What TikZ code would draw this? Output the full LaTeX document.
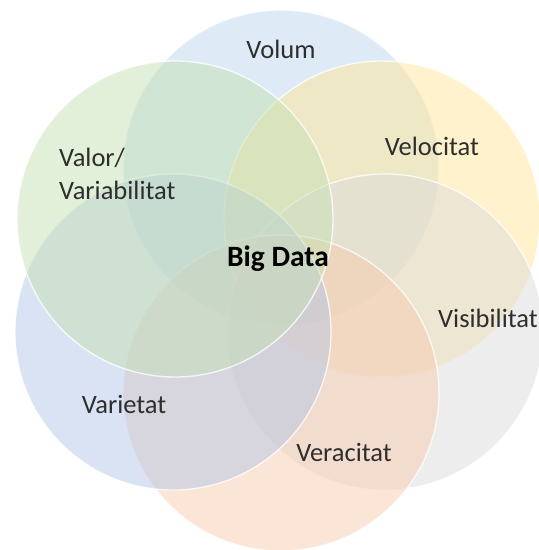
\documentclass[tikz,border=0pt]{standalone}
\usepackage{fontspec}
\setmainfont{Carlito}
% light tints of the six accent colours
\definecolor{tintBlue}{HTML}{BDD7EE}
\definecolor{tintGold}{HTML}{FFE699}
\definecolor{tintGray}{HTML}{DBDBDB}
\definecolor{tintOrange}{HTML}{F8CBAD}
\definecolor{tintDkBlue}{HTML}{B4C7E7}
\definecolor{tintGreen}{HTML}{C5E0B4}
\definecolor{labelText}{HTML}{2E2E2E}
\begin{document}
\begin{tikzpicture}[x=1pt,y=-1pt,
  petal/.style={circle, inner sep=0pt, minimum size=316pt,
    fill=#1, fill opacity=0.5, draw=white, draw opacity=0.8, line width=1.3pt},
  lbl/.style={anchor=base, inner sep=0pt, text=labelText, font=\fontsize{26.5}{33}\selectfont},
  hub/.style={anchor=base, inner sep=0pt, text=black, font=\fontsize{29.5}{34}\selectfont\bfseries}]
  \useasboundingbox (0,0) rectangle (539,550);
  \begin{scope}
    \clip (0,0) rectangle (539,550);
    % six overlapping petals, drawn clockwise from the top
    \node[petal=tintBlue]   (volum)  at (281,168) {};
    \node[petal=tintGold]   (veloc)  at (382,219) {};
    \node[petal=tintGray]   (visib)  at (385,332) {};
    \node[petal=tintOrange] (verac)  at (281,393) {};
    \node[petal=tintDkBlue] (variet) at (173,332) {};
    \node[petal=tintGreen]  (valor)  at (175,219) {};
  \end{scope}
  % labels
  \node[lbl] (tVolum)  at (281,58)  {Volum};
  \node[lbl] (tVeloc)  at (432,155) {Velocitat};
  \node[lbl, anchor=base west] (tValor) at (59,166) {Valor/};
  \node[lbl, anchor=base west] (tVariab) at (59,199) {Variabilitat};
  \node[hub] (tBig)    at (278,266) {Big Data};
  \node[lbl] (tVisib)  at (488,327) {Visibilitat};
  \node[lbl] (tVariet) at (124,413) {Varietat};
  \node[lbl] (tVerac)  at (344,461) {Veracitat};
\end{tikzpicture}
\end{document}
